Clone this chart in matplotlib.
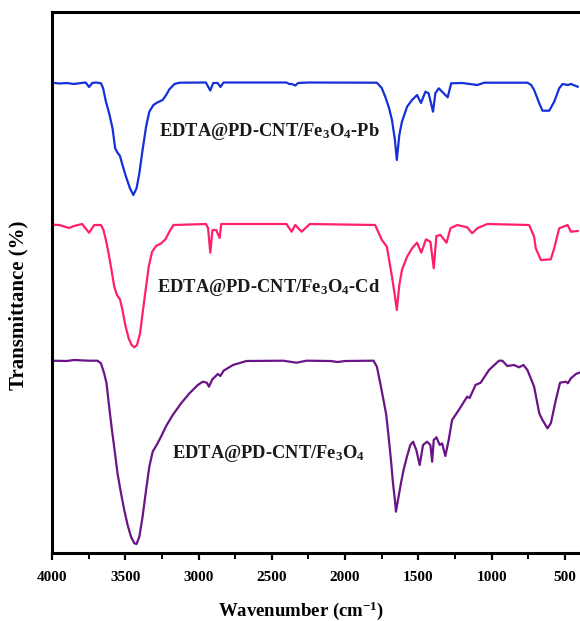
import matplotlib
matplotlib.use("Agg")
import matplotlib.pyplot as plt
from matplotlib.ticker import MultipleLocator

plt.rcParams["font.family"] = ["Liberation Serif", "DejaVu Serif"]
plt.rcParams["font.weight"] = "bold"
plt.rcParams["mathtext.fontset"] = "custom"
plt.rcParams["mathtext.rm"] = "Liberation Serif:bold"
plt.rcParams["mathtext.it"] = "Liberation Serif:bold"
plt.rcParams["mathtext.bf"] = "Liberation Serif:bold"
plt.rcParams["mathtext.default"] = "rm"

# stacked FTIR spectra, transmittance in arbitrary offset units
pb_wn = [4000, 3950, 3900, 3850, 3800, 3770, 3747, 3725, 3700, 3666, 3651, 3632,
         3610, 3587, 3569, 3553, 3536, 3519, 3495, 3468, 3445, 3423, 3404, 3382,
         3358, 3336, 3308, 3279, 3245, 3221, 3199, 3164, 3130,
         2950, 2920, 2900, 2870, 2850, 2830, 2400, 2380, 2363, 2340, 2320, 2250,
         1783, 1750, 1726, 1700, 1680, 1660, 1647, 1630, 1612, 1577, 1543, 1509,
         1482, 1452, 1430, 1400, 1384, 1361, 1338, 1300, 1276, 1200, 1098, 1050,
         756, 730, 710, 675, 653, 607, 573, 539, 516, 480, 459, 413]
pb_px = [82.7, 83.5, 83, 84, 83, 82.5, 87, 83, 82.5, 83.3, 88.3, 101.7,
         113.3, 128.3, 148.3, 152.7, 156, 165, 176.7, 188.3, 195, 188.3, 173.3, 150,
         126.7, 111.7, 105, 102.3, 100, 95, 89.3, 84, 82.7,
         82.5, 90.5, 83, 83, 87, 82.5, 82.5, 84, 84, 85.5, 83, 82.5,
         82.7, 88, 96.7, 108, 120, 140, 160, 135, 121.7, 106.7, 100, 95,
         103, 91.7, 93.3, 111.7, 93.3, 88.3, 91.7, 97.3, 83.3, 83, 85, 82.7,
         82.7, 85, 90, 103.3, 110.7, 110.7, 101.7, 88.3, 84, 85, 84, 86.7]

cd_wn = [4000, 3950, 3884, 3850, 3795, 3747, 3712, 3666, 3649, 3632, 3614, 3596,
         3575, 3557, 3536, 3519, 3500, 3477, 3457, 3438, 3420, 3399, 3382, 3358,
         3340, 3317, 3290, 3255, 3226, 3199, 3171, 2950, 2935,
         2920, 2905, 2880, 2856, 2845, 2400, 2388, 2365, 2340, 2297, 2240, 1795,
         1749, 1715, 1680, 1660, 1647, 1630, 1612, 1577, 1543, 1509, 1480, 1448,
         1418, 1395, 1377, 1349, 1308, 1281, 1235, 1167, 1133, 1098, 1030, 744,
         710, 699, 664, 596, 573, 539, 482, 459, 413]
cd_px = [224.7, 225, 228, 226, 224, 232.7, 225, 225, 230, 240, 253.3, 268.3,
         286.7, 295, 299.3, 310, 325, 338.3, 345, 347.3, 345, 333.3, 313.3, 286.7,
         266.7, 251.7, 246, 243.3, 239.3, 231.7, 225, 224, 228,
         252.7, 230, 230, 238, 224, 224, 226.7, 231.7, 225, 231.7, 224, 225,
         240, 246.7, 276.7, 296, 310, 285, 270, 256.7, 248.3, 242.7, 252.7, 239.3,
         241.7, 268.3, 236, 235, 242.7, 228.3, 225, 227.3, 233.3, 228.3, 224, 225,
         236.7, 248.3, 260, 259.3, 248.3, 228.3, 225, 231.7, 231]

fe_wn = [4000, 3900, 3850, 3750, 3690, 3666, 3644, 3628, 3610, 3591, 3573, 3553,
         3529, 3507, 3484, 3461, 3438, 3423, 3404, 3382, 3358, 3336, 3313, 3286,
         3256, 3221, 3176, 3119, 3062, 3005, 2971, 2943, 2929, 2906,
         2868, 2851, 2829, 2765, 2673, 2423, 2332, 2263, 2100, 2050, 2000, 1817,
         1806, 1783, 1760, 1738, 1719, 1703, 1687, 1673, 1660, 1653, 1635, 1619,
         1601, 1578, 1555, 1536, 1514,
         1491, 1468, 1441, 1418, 1406, 1395, 1377, 1354, 1338, 1316, 1293, 1270,
         1224, 1167, 1150, 1110, 1075, 1018, 950, 927, 893, 847, 813, 783, 756,
         710, 675, 653, 619, 596, 562, 533, 493, 480, 459, 425, 402]
fe_px = [360.7, 361, 360, 360.7, 360.7, 363.3, 373.3, 383.3, 406.7, 430, 450, 473.3,
         493.3, 510, 525, 536.7, 543.3, 544, 536.7, 516.7, 490, 466.7, 451.7, 445,
         436.7, 426, 415, 403.3, 393.3, 385, 381.7, 382.7, 386.7, 379.3,
         374, 376, 370.7, 365, 361, 360.7, 362.7, 360.7, 361, 362, 361, 360.7,
         360.7, 366.7, 383.3, 400, 415, 436.7, 460, 483.3, 500, 511.7, 496.7, 483.3,
         470, 456.7, 445, 441.7, 450,
         465, 445, 441.7, 445, 461.7, 440, 437.3, 445, 443.3, 456, 440, 420,
         410, 396.7, 398, 385, 382.7, 370, 360.7, 360.7, 366, 365, 367.3, 365, 370,
         386.7, 413.3, 420, 428.3, 423.3, 400, 382.7, 381.7, 383.3, 378.3, 374, 372.7]

BASE = 553
series = [
    (pb_wn, pb_px, "#1530D8", "EDTA@PD-CNT/Fe$_3$O$_4$-Pb", (3267, 421)),
    (cd_wn, cd_px, "#FF1F6E", "EDTA@PD-CNT/Fe$_3$O$_4$-Cd", (3281, 266)),
    (fe_wn, fe_px, "#6A1488", "EDTA@PD-CNT/Fe$_3$O$_4$", (3178, 99)),
]

fig = plt.figure(figsize=(5.8, 6.21), dpi=100)
ax = fig.add_axes([52 / 580, 68 / 621, 1 - 52 / 580, 541 / 621])

for wn, px, color, label, (tx, ty) in series:
    y = [BASE - p for p in px]
    ax.plot(wn, y, color=color, linewidth=1.6)
    ax.text(tx, ty, label, fontsize=13.3, fontweight="bold", color="#1a1a1a",
            ha="left", va="center")

ax.set_xlim(4000, 397)
ax.set_ylim(0, 541)
ax.xaxis.set_major_locator(MultipleLocator(500))
ax.xaxis.set_minor_locator(MultipleLocator(250))
ax.tick_params(axis="x", which="major", direction="out", length=5, width=1.6,
               labelsize=11, pad=8)
ax.tick_params(axis="x", which="minor", direction="out", length=4, width=1.4)
ax.set_yticks([])
for side in ("left", "bottom", "top"):
    ax.spines[side].set_linewidth(2.2)
ax.spines["right"].set_visible(False)

ax.set_xlabel("Wavenumber (cm$^{-1}$)", fontsize=13.5, fontweight="bold")
ax.set_ylabel("Transmittance (%)", fontsize=15, fontweight="bold")
ax.xaxis.set_label_coords(0.472, -0.085)
ax.yaxis.set_label_coords(-0.045, 0.457)

fig.savefig("out.png", dpi=100)
